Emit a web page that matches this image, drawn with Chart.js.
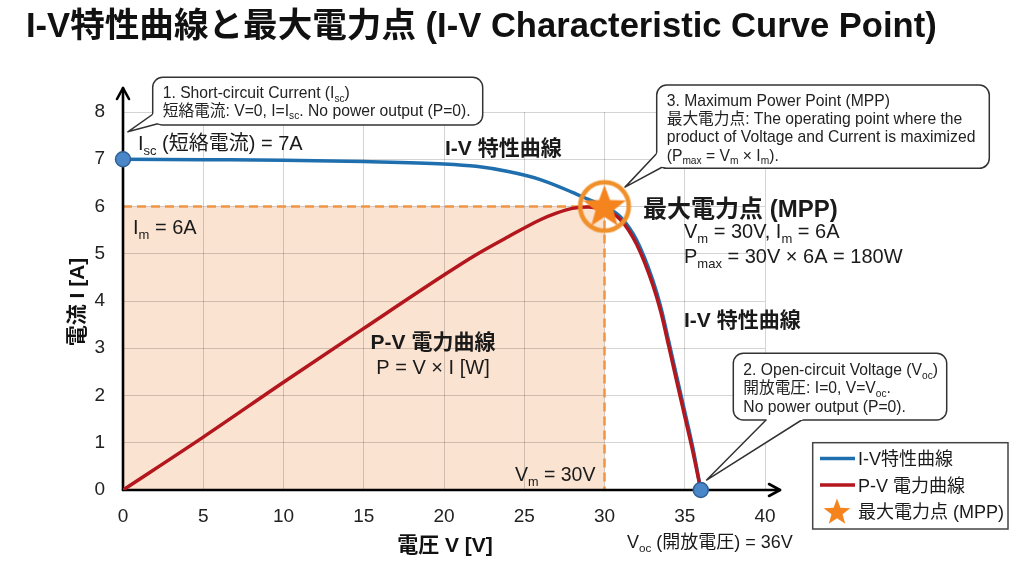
<!DOCTYPE html>
<html lang="ja">
<head>
<meta charset="utf-8">
<title>I-V特性曲線と最大電力点</title>
<script src="https://cdn.jsdelivr.net/npm/chart.js@4.4.1/dist/chart.umd.min.js"></script>
<style>
  html, body { margin: 0; padding: 0; background: #fff; }
  #wrap { width: 1024px; height: 572px; position: relative; }
</style>
</head>
<body>
<div id="wrap"><canvas id="ivChart"></canvas></div>
<script>
// データ
const ivVoltage = [0, 5, 10, 15, 20, 22, 24, 26, 28, 29, 30, 31, 32, 33, 33.5, 34, 34.5, 35, 35.5, 36];
const ivCurrent = [7.00, 6.99, 6.98, 6.95, 6.90, 6.85, 6.74, 6.57, 6.30, 6.15, 6.00, 5.78, 5.29, 4.45, 3.88, 3.15, 2.40, 1.66, 0.90, 0];
// P-V曲線（I軸に合わせて縮尺した電力 P/30）
const pvVoltage = [0, 5, 10, 15, 20, 22, 24, 26, 27, 28, 29, 30, 31, 32, 33, 33.5, 34, 34.5, 35, 35.5, 36];
const pvPowerScaled = [0, 1.12, 2.28, 3.42, 4.55, 4.98, 5.36, 5.72, 5.86, 5.96, 5.99, 5.93, 5.72, 5.20, 4.35, 3.78, 3.05, 2.30, 1.56, 0.82, 0];
const keyVoltage = [0, 36];   // Isc点, Voc点
const keyCurrent = [7, 0];
const mppVoltage = [30];
const mppCurrent = [6];
const xTicks = [0, 5, 10, 15, 20, 25, 30, 35, 40];
const yTicks = [0, 1, 2, 3, 4, 5, 6, 7, 8];

const FONT = '"Liberation Sans", Arial, "Noto Sans CJK JP", sans-serif';
const BLUE = '#1f6fae';
const RED = '#b3161c';
const ORANGE = '#f5841f';

const toXY = (xs, ys) => xs.map((x, i) => ({ x: x, y: ys[i] }));

// 星形のパス
function starPath(ctx, cx, cy, R, r) {
    ctx.beginPath();
    for (let i = 0; i < 10; i++) {
        const a = -Math.PI / 2 + i * Math.PI / 5;
        const rr = i % 2 === 0 ? R : r;
        const px = cx + rr * Math.cos(a), py = cy + rr * Math.sin(a);
        if (i === 0) ctx.moveTo(px, py); else ctx.lineTo(px, py);
    }
    ctx.closePath();
}

// MPPのマーカー（星＋リング）
function makeMppMarker() {
    const c = document.createElement('canvas');
    c.width = 60; c.height = 60;
    const g = c.getContext('2d');
    g.strokeStyle = '#f0902a';
    g.lineWidth = 4.6;
    g.beginPath(); g.arc(30, 30, 24.3, 0, Math.PI * 2); g.stroke();
    starPath(g, 30, 31, 22.5, 9.4);
    g.fillStyle = ORANGE; g.fill();
    return c;
}

// 下付き文字つきテキスト  "I_{sc}" 形式
function parseRich(str) {
    const out = []; const re = /_\{([^}]*)\}/g; let last = 0, m;
    while ((m = re.exec(str))) {
        if (m.index > last) out.push({ t: str.slice(last, m.index), sub: false });
        out.push({ t: m[1], sub: true });
        last = re.lastIndex;
    }
    if (last < str.length) out.push({ t: str.slice(last), sub: false });
    return out;
}
function richText(ctx, str, x, y, size, weight, align, color) {
    const parts = parseRich(str);
    const f = sub => `${weight} ${sub ? size * 0.65 : size}px ${FONT}`;
    let w = 0;
    parts.forEach(p => { ctx.font = f(p.sub); p.w = ctx.measureText(p.t).width; w += p.w; });
    let cx = align === 'center' ? x - w / 2 : (align === 'right' ? x - w : x);
    ctx.fillStyle = color || '#1a1a1a';
    ctx.textAlign = 'left';
    ctx.textBaseline = 'alphabetic';
    parts.forEach(p => {
        ctx.font = f(p.sub);
        ctx.fillText(p.t, cx, p.sub ? y + size * 0.24 : y);
        cx += p.w;
    });
    return w;
}

function roundRectPath(ctx, x, y, w, h, r) {
    ctx.moveTo(x + r, y);
    ctx.arcTo(x + w, y, x + w, y + h, r);
    ctx.arcTo(x + w, y + h, x, y + h, r);
    ctx.arcTo(x, y + h, x, y, r);
    ctx.arcTo(x, y, x + w, y, r);
    ctx.closePath();
}

// 吹き出し
function callout(chart, box, b1, b2, tip, lines) {
    const ctx = chart.ctx, W = chart.width, H = chart.height;
    ctx.save();
    ctx.fillStyle = '#fff';
    ctx.beginPath(); roundRectPath(ctx, box.x, box.y, box.w, box.h, 10); ctx.fill();
    ctx.beginPath(); ctx.moveTo(tip[0], tip[1]); ctx.lineTo(b1[0], b1[1]); ctx.lineTo(b2[0], b2[1]); ctx.closePath(); ctx.fill();
    ctx.strokeStyle = '#333';
    ctx.lineWidth = 1.5;
    ctx.lineJoin = 'round';
    ctx.save();
    ctx.beginPath(); ctx.rect(0, 0, W, H); roundRectPath(ctx, box.x, box.y, box.w, box.h, 10); ctx.clip('evenodd');
    ctx.beginPath(); ctx.moveTo(b1[0], b1[1]); ctx.lineTo(tip[0], tip[1]); ctx.lineTo(b2[0], b2[1]); ctx.stroke();
    ctx.restore();
    ctx.save();
    ctx.beginPath(); ctx.rect(0, 0, W, H);
    ctx.moveTo(tip[0], tip[1]); ctx.lineTo(b1[0], b1[1]); ctx.lineTo(b2[0], b2[1]); ctx.closePath();
    ctx.clip('evenodd');
    ctx.beginPath(); roundRectPath(ctx, box.x, box.y, box.w, box.h, 10); ctx.stroke();
    ctx.restore();
    lines.forEach((ln, i) => richText(ctx, ln, box.x + 10, box.y + box.lineTop + i * box.lh, 15.7, 'normal', 'left', '#222'));
    ctx.restore();
}

const decorPlugin = {
    id: 'ivDecor',
    beforeDraw(chart) {
        const { ctx, scales: { x, y } } = chart;
        // 最大電力の四角形
        ctx.save();
        ctx.fillStyle = '#fbe3d1';
        const x0 = x.getPixelForValue(0), x1 = x.getPixelForValue(mppVoltage[0]);
        const y0 = y.getPixelForValue(0), y1 = y.getPixelForValue(mppCurrent[0]);
        ctx.fillRect(x0, y1, x1 - x0, y0 - y1);
        ctx.restore();
    },
    beforeDatasetsDraw(chart) {
        const { ctx, scales: { x, y } } = chart;
        const x0 = x.getPixelForValue(0), xm = x.getPixelForValue(mppVoltage[0]);
        const y0 = y.getPixelForValue(0), ym = y.getPixelForValue(mppCurrent[0]);
        ctx.save();
        // 破線
        ctx.strokeStyle = '#ef9543';
        ctx.lineWidth = 2.5;
        ctx.setLineDash([9, 5]);
        ctx.beginPath(); ctx.moveTo(x0, ym); ctx.lineTo(xm, ym); ctx.stroke();
        ctx.beginPath(); ctx.moveTo(xm, ym); ctx.lineTo(xm, y0); ctx.stroke();
        ctx.setLineDash([]);
        // 軸（矢印つき）
        ctx.strokeStyle = '#000';
        ctx.lineWidth = 2.6;
        ctx.lineCap = 'round';
        ctx.lineJoin = 'round';
        const yTop = chart.chartArea.top - 24;
        const xEnd = chart.chartArea.right + 15;
        ctx.beginPath(); ctx.moveTo(x0, y0); ctx.lineTo(x0, yTop); ctx.stroke();
        ctx.beginPath(); ctx.moveTo(x0 - 6, yTop + 11); ctx.lineTo(x0, yTop); ctx.lineTo(x0 + 6, yTop + 11); ctx.stroke();
        ctx.beginPath(); ctx.moveTo(x0, y0); ctx.lineTo(xEnd, y0); ctx.stroke();
        ctx.beginPath(); ctx.moveTo(xEnd - 11, y0 - 6); ctx.lineTo(xEnd, y0); ctx.lineTo(xEnd - 11, y0 + 6); ctx.stroke();
        ctx.restore();
    },
    afterDatasetsDraw(chart) {
        const { ctx, scales: { x, y } } = chart;
        const px = v => x.getPixelForValue(v), py = v => y.getPixelForValue(v);
        ctx.save();

        // タイトル
        richText(ctx, 'I-V特性曲線と最大電力点 (I-V Characteristic Curve Point)', 26, 37, 34.6, 'bold', 'left', '#111');

        // 軸タイトル
        richText(ctx, '電圧 V [V]', 445, 552, 21, 'bold', 'center', '#111');
        ctx.save();
        ctx.translate(84, 302);
        ctx.rotate(-Math.PI / 2);
        richText(ctx, '電流 I [A]', 0, 0, 21, 'bold', 'center', '#111');
        ctx.restore();

        // ラベル
        richText(ctx, 'I_{sc} (短絡電流) = 7A', 138, 150, 20, 'normal', 'left');
        richText(ctx, 'I-V 特性曲線', 445, 155, 21, 'bold', 'left');
        richText(ctx, 'I_{m} = 6A', 133, 234, 20, 'normal', 'left');
        richText(ctx, 'P-V 電力曲線', 433, 349, 21, 'bold', 'center');
        richText(ctx, 'P = V × I [W]', 433, 374, 20, 'normal', 'center');
        richText(ctx, '最大電力点 (MPP)', 643, 217, 24, 'bold', 'left');
        richText(ctx, 'V_{m} = 30V, I_{m} = 6A', 684, 238, 20, 'normal', 'left');
        richText(ctx, 'P_{max} = 30V × 6A = 180W', 684, 263, 20, 'normal', 'left');
        richText(ctx, 'I-V 特性曲線', 684, 327, 21, 'bold', 'left');
        richText(ctx, 'V_{m} = 30V', 515, 481, 19.5, 'normal', 'left');
        richText(ctx, 'V_{oc} (開放電圧) = 36V', 627, 548, 18, 'normal', 'left');

        // 吹き出し
        callout(chart, { x: 152.7, y: 77.3, w: 330, h: 47.7, lineTop: 21, lh: 17.4 },
            [156, 112], [168, 121], [px(0.3), py(7.58)],
            ['1. Short-circuit Current (I_{sc})', '短絡電流: V=0, I=I_{sc}. No power output (P=0).']);
        callout(chart, { x: 656.7, y: 85, w: 332.6, h: 83.3, lineTop: 20.5, lh: 18.4 },
            [660, 150], [668, 164], [px(31.28), py(6.41)],
            ['3. Maximum Power Point (MPP)', '最大電力点: The operating point where the',
             'product of Voltage and Current is maximized', '(P_{max} = V_{m} × I_{m}).']);
        callout(chart, { x: 733.3, y: 353.3, w: 213.4, h: 66.7, lineTop: 21.5, lh: 18.4 },
            [770, 416], [808, 416], [px(36.36), py(0.21)],
            ['2. Open-circuit Voltage (V_{oc})', '開放電圧: I=0, V=V_{oc}.', 'No power output (P=0).']);

        // 凡例
        ctx.fillStyle = '#fff';
        ctx.strokeStyle = '#444';
        ctx.lineWidth = 1.5;
        ctx.fillRect(812.7, 442.7, 195.3, 86.3);
        ctx.strokeRect(812.7, 442.7, 195.3, 86.3);
        ctx.lineWidth = 3.5;
        ctx.strokeStyle = BLUE;
        ctx.beginPath(); ctx.moveTo(820, 458.5); ctx.lineTo(855, 458.5); ctx.stroke();
        ctx.strokeStyle = RED;
        ctx.beginPath(); ctx.moveTo(820, 485); ctx.lineTo(855, 485); ctx.stroke();
        starPath(ctx, 837, 512.5, 14, 5.8);
        ctx.fillStyle = ORANGE; ctx.fill();
        richText(ctx, 'I-V特性曲線', 858, 465, 18, 'normal', 'left');
        richText(ctx, 'P-V 電力曲線', 858, 491.5, 18, 'normal', 'left');
        richText(ctx, '最大電力点 (MPP)', 858, 518, 18, 'normal', 'left');

        ctx.restore();
    }
};

const ctx = document.getElementById('ivChart').getContext('2d');
const ivChart = new Chart(ctx, {
    type: 'line',
    data: {
        datasets: [
            {
                label: 'MPP',
                data: toXY(mppVoltage, mppCurrent),
                showLine: false,
                pointStyle: makeMppMarker(),
                pointRadius: 24,
                clip: false,
                order: 0
            },
            {
                label: 'Key points',
                data: toXY(keyVoltage, keyCurrent),
                showLine: false,
                pointRadius: 7.5,
                pointBackgroundColor: '#4a87c9',
                pointBorderColor: '#2f5f95',
                pointBorderWidth: 1.5,
                clip: false,
                order: 1
            },
            {
                label: 'P-V 電力曲線',
                data: toXY(pvVoltage, pvPowerScaled),
                borderColor: RED,
                borderWidth: 3.5,
                pointRadius: 0,
                cubicInterpolationMode: 'monotone',
                fill: false,
                order: 2
            },
            {
                label: 'I-V特性曲線',
                data: toXY(ivVoltage, ivCurrent),
                borderColor: BLUE,
                borderWidth: 3.5,
                pointRadius: 0,
                cubicInterpolationMode: 'monotone',
                fill: false,
                order: 3
            }
        ]
    },
    options: {
        responsive: true,
        maintainAspectRatio: false,
        animation: false,
        layout: { padding: { top: 112, right: 259, left: 0, bottom: 0 } },
        plugins: {
            legend: { display: false },
            title: { display: false },
            tooltip: { enabled: false }
        },
        scales: {
            x: {
                type: 'linear',
                min: 0, max: 40,
                afterBuildTicks: s => { s.ticks = xTicks.map(v => ({ value: v })); },
                afterFit: s => { s.height = 82; },
                ticks: { padding: 15, color: '#222', font: { family: FONT, size: 19 } },
                grid: { color: 'rgba(0,0,0,0.17)', drawTicks: false },
                border: { display: false }
            },
            y: {
                type: 'linear',
                min: 0, max: 8,
                afterBuildTicks: s => { s.ticks = yTicks.map(v => ({ value: v })); },
                afterFit: s => { s.width = 123; },
                ticks: { padding: 18, color: '#222', font: { family: FONT, size: 19 } },
                grid: { color: 'rgba(0,0,0,0.17)', drawTicks: false },
                border: { display: false }
            }
        }
    },
    plugins: [decorPlugin]
});
</script>
</body>
</html>
